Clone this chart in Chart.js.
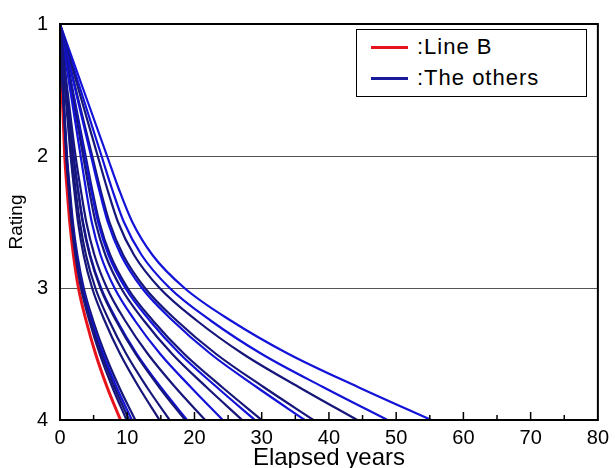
<!DOCTYPE html>
<html>
<head>
<meta charset="utf-8">
<script src="https://cdn.jsdelivr.net/npm/chart.js@4/dist/chart.umd.min.js"></script>
<style>
  body { margin: 0; background: #fff; }
  #wrap { position: relative; width: 615px; height: 468px; }
  #legendBox {
    position: absolute; left: 356px; top: 29px; width: 229px; height: 66px;
    border: 1.5px solid #000; background: #fff;
    font-family: "Liberation Sans", Arial, sans-serif; font-size: 22px; color: #000;
    letter-spacing: 1px;
  }
  .row { position: absolute; left: 0; height: 28px; line-height: 28px; }
  .row .sample { position: absolute; left: 14px; width: 37px; top: 13px; border-top: 3px solid; }
  .row .txt { position: absolute; left: 60px; white-space: nowrap; }
</style>
</head>
<body>
<div id="wrap">
  <canvas id="ratingChart" width="615" height="468"></canvas>
  <div id="legendBox">
    <div class="row" style="top:3px"><span class="sample" style="border-color:#e8141c"></span><span class="txt">:Line B</span></div>
    <div class="row" style="top:34px"><span class="sample" style="border-color:#1a1a9c"></span><span class="txt">:The others</span></div>
  </div>
</div>
<script>
// 評価(縦軸)の値
const ratingLevels = [1, 1.5, 2, 2.25, 2.5, 2.75, 3, 3.25, 3.5, 3.75, 4];

// 各評価に達する経過年数
const lineB = [0, 0.3, 0.7, 1.05, 1.45, 2.0, 2.75, 3.9, 5.3, 7.0, 9.0];

const otherLines = [
    [0, 0.42, 0.92, 1.29, 1.69, 2.28, 3.12, 4.38, 5.91, 7.77, 9.9],
    [0, 0.43, 0.96, 1.34, 1.76, 2.37, 3.24, 4.55, 6.15, 8.09, 10.3],
    [0, 0.45, 1.0, 1.39, 1.83, 2.46, 3.37, 4.73, 6.39, 8.40, 10.7],
    [0, 0.47, 1.04, 1.46, 1.92, 2.58, 3.53, 4.95, 6.69, 8.79, 11.2],
    [0, 0.75, 1.58, 2.10, 2.68, 3.51, 4.78, 6.66, 8.95, 11.72, 14.8],
    [0, 0.83, 1.74, 2.31, 2.95, 3.86, 5.26, 7.34, 9.86, 12.91, 16.3],
    [0, 0.95, 1.99, 2.64, 3.37, 4.41, 6.01, 8.37, 11.25, 14.73, 18.6],
    [0, 0.96, 2.02, 2.68, 3.42, 4.48, 6.10, 8.51, 11.43, 14.97, 18.9],
    [0, 1.10, 2.31, 3.07, 3.91, 5.12, 6.98, 9.72, 13.07, 17.11, 21.6],
    [0, 1.52, 3.07, 3.85, 4.72, 6.03, 8.11, 11.18, 14.91, 19.43, 24.2],
    [0, 1.71, 3.44, 4.31, 5.28, 6.75, 9.08, 12.52, 16.69, 21.76, 27.1],
    [0, 1.83, 3.68, 4.61, 5.66, 7.22, 9.72, 13.40, 17.86, 23.29, 29.0],
    [0, 1.89, 3.81, 4.77, 5.85, 7.47, 10.05, 13.86, 18.48, 24.09, 30.0],
    [0, 2.29, 4.62, 5.79, 7.10, 9.06, 12.19, 16.82, 22.42, 29.23, 36.4],
    [0, 2.38, 4.79, 5.99, 7.35, 9.39, 12.63, 17.42, 23.22, 30.27, 37.7],
    [0, 2.78, 5.61, 7.03, 8.62, 11.01, 14.81, 20.42, 27.23, 35.49, 44.2],
    [0, 3.07, 6.18, 7.74, 9.50, 12.13, 16.31, 22.50, 30.0, 39.11, 48.7],
    [0, 3.5, 7.0, 8.75, 10.75, 13.75, 18.5, 25.5, 34.0, 44.3, 55.2]
];
const otherColors = ['#16167a', '#16167a', '#1212d8', '#16167a', '#16167a', '#16167a',
    '#16167a', '#1212d8', '#16167a', '#1212d8', '#16167a', '#1212d8',
    '#16167a', '#1212d8', '#16167a', '#16167a', '#1212d8', '#1212d8'];

const xTicks = [0, 10, 20, 30, 40, 50, 60, 70, 80];

function toPoints(years) {
    return years.map((x, i) => ({ x: x, y: ratingLevels[i] }));
}

const datasets = otherLines.map((years, i) => ({
    label: 'The others',
    data: toPoints(years),
    borderColor: otherColors[i],
    borderWidth: 2.2
}));
datasets.push({
    label: 'Line B',
    data: toPoints(lineB),
    borderColor: '#e8141c',
    borderWidth: 3
});

// 枠線と内向きの目盛り
const framePlugin = {
    id: 'frame',
    afterDraw(chart) {
        const { ctx, chartArea: a, scales } = chart;
        ctx.save();
        ctx.strokeStyle = '#000';
        ctx.lineWidth = 2;
        ctx.strokeRect(a.left, a.top, a.right - a.left, a.bottom - a.top);
        ctx.lineWidth = 1.5;
        for (let v = 5; v < 80; v += 5) {
            const px = scales.x.getPixelForValue(v);
            const len = v % 10 === 0 ? 8 : 5;
            ctx.beginPath();
            ctx.moveTo(px, a.bottom);
            ctx.lineTo(px, a.bottom - len);
            ctx.stroke();
        }
        ctx.restore();
    }
};

new Chart(document.getElementById('ratingChart'), {
    type: 'line',
    data: { datasets: datasets },
    options: {
        responsive: false,
        animation: false,
        layout: { padding: { top: 22, right: 15, left: 0, bottom: 0 } },
        elements: {
            point: { radius: 0 },
            line: { cubicInterpolationMode: 'monotone' }
        },
        plugins: {
            legend: { display: false },
            tooltip: { enabled: false }
        },
        scales: {
            x: {
                type: 'linear',
                min: 0,
                max: 80,
                border: { display: false },
                grid: { display: false, drawTicks: false },
                afterBuildTicks: (scale) => {
                    scale.ticks = xTicks.map(v => ({ value: v }));
                },
                afterFit: (scale) => { scale.height = 48; },
                ticks: {
                    autoSkip: false,
                    maxRotation: 0,
                    padding: 6,
                    color: '#000',
                    font: { family: 'Liberation Sans', size: 20 }
                },
                title: {
                    display: true,
                    text: 'Elapsed years',
                    color: '#000',
                    padding: { top: 0, bottom: -2 },
                    font: { family: 'Liberation Sans', size: 24, lineHeight: 1.0 }
                }
            },
            y: {
                type: 'linear',
                min: 1,
                max: 4,
                reverse: true,
                border: { display: false },
                grid: {
                    drawTicks: false,
                    color: (c) => (c.tick && (c.tick.value === 2 || c.tick.value === 3)) ? '#555' : 'rgba(0,0,0,0)',
                    lineWidth: 1
                },
                afterFit: (scale) => { scale.width = 60; },
                ticks: {
                    stepSize: 1,
                    padding: 12,
                    color: '#000',
                    font: { family: 'Liberation Sans', size: 20 }
                },
                title: {
                    display: true,
                    text: 'Rating',
                    color: '#000',
                    padding: { top: 7, bottom: 0 },
                    font: { family: 'Liberation Sans', size: 19, lineHeight: 1.0 }
                }
            }
        }
    },
    plugins: [framePlugin]
});
</script>
</body>
</html>
